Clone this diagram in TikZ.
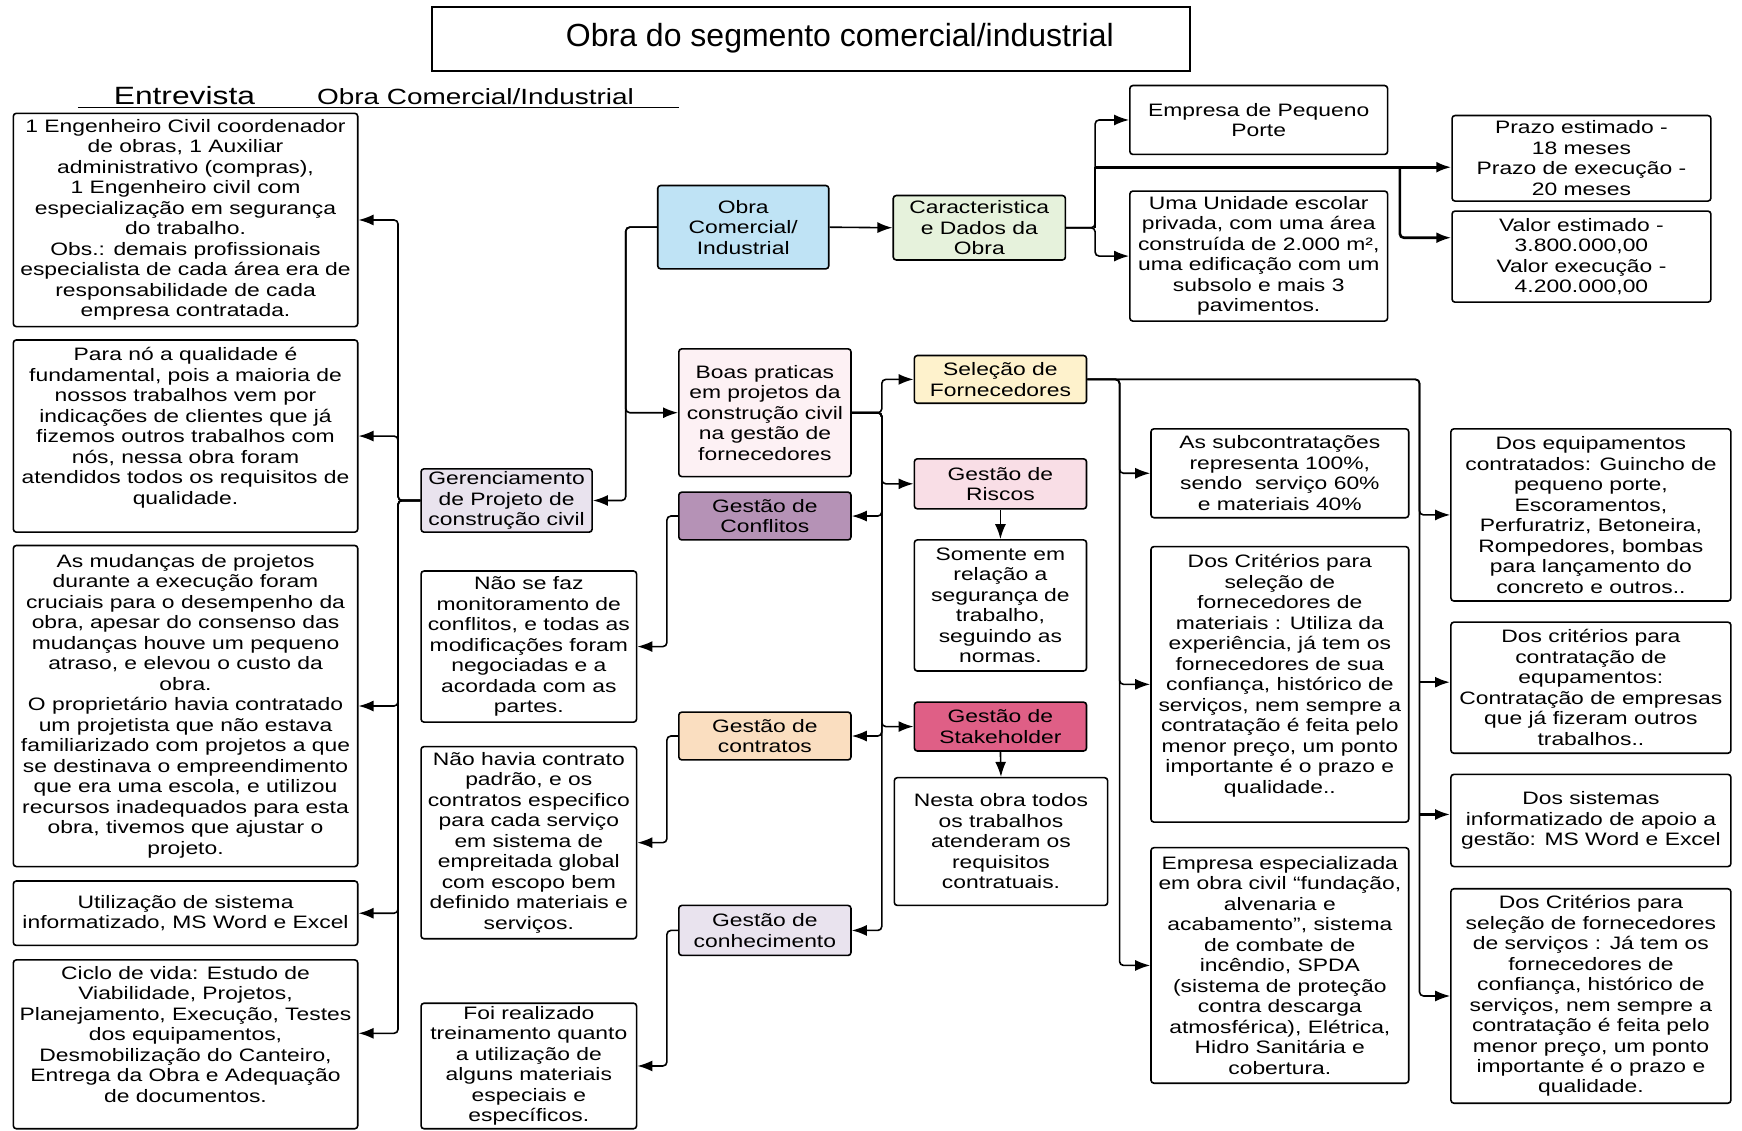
\documentclass[tikz,border=0pt]{standalone}
\usepackage{fontspec}
\setmainfont{Liberation Sans}[FakeStretch=1.27]
\newfontfamily\titlefont{Liberation Sans}
\usetikzlibrary{arrows.meta}

\definecolor{cObra}{HTML}{BFE3F5}
\definecolor{cCar}{HTML}{E6F2DC}
\definecolor{cBoas}{HTML}{FDF1F4}
\definecolor{cConf}{HTML}{B592B6}
\definecolor{cContr}{HTML}{FADEC0}
\definecolor{cLav}{HTML}{E9E3EE}
\definecolor{cSel}{HTML}{FEF2CC}
\definecolor{cRisc}{HTML}{F9DEE6}
\definecolor{cStake}{HTML}{DF5F86}

\tikzset{
  box/.style={draw=black, line width=1.6pt, rounded corners=3pt, align=center,
    inner sep=0pt, font=\fontsize{18}{20.5}\selectfont},
  arr/.style={line width=1.6pt, rounded corners=4pt, -{Latex[length=15pt,width=11pt]}},
  heavy/.style={line width=2.6pt},
}

% \bx[style]{name}{x1}{y1}{x2}{y2}{text}: box spanning the given corners
\newcommand{\bx}[7][]{%
  \pgfmathsetmacro\bw{(#5-#3)*1.111}%
  \pgfmathsetmacro\bh{(#6-#4)*1.111}%
  \node[box,#1,minimum width=\bw pt,minimum height=\bh pt] (#2)
    at ({(#3+#5)/2},{(#4+#6)/2}) {#7};}

\begin{document}
\begin{tikzpicture}[x=1.111pt,y=-1.111pt]
\useasboundingbox[fill=white] (0,0) rectangle (1568,1018);

% title
\node[draw=black, line width=1.6pt, minimum width=758pt, minimum height=64pt, inner sep=0pt]
  (titlebox) at (730,35) {};
\node[font=\titlefont\fontsize{32}{36}\selectfont] (title) at (756,34)
  {Obra do segmento comercial/industrial};

% header
\node[anchor=base, font=\fontsize{25}{28}\selectfont] (hdr1) at (166,94) {Entrevista};
\node[anchor=base, font=\fontsize{22}{24}\selectfont] (hdr2) at (428,94) {Obra Comercial/Industrial};
\draw[line width=1.3pt] (70,97) -- (611,97);

% left column
\bx{l1}{12}{102}{322}{294}{1 Engenheiro Civil coordenador\\de obras, 1 Auxiliar\\administrativo (compras),\\1 Engenheiro civil com\\especialização em segurança\\do trabalho.\\Obs.: demais profissionais\\especialista de cada área era de\\responsabilidade de cada\\empresa contratada.}
\bx{l2}{12}{306}{322}{479}{Para nó a qualidade é\\fundamental, pois a maioria de\\nossos trabalhos vem por\\indicações de clientes que já\\fizemos outros trabalhos com\\nós, nessa obra foram\\atendidos todos os requisitos de\\qualidade.\\~}
\bx{l3}{12}{491}{322}{780}{As mudanças de projetos\\durante a execução foram\\cruciais para o desempenho da\\obra, apesar do consenso das\\mudanças houve um pequeno\\atraso, e elevou o custo da\\obra.\\O proprietário havia contratado\\um projetista que não estava\\familiarizado com projetos a que\\se destinava o empreendimento\\que era uma escola, e utilizou\\recursos inadequados para esta\\obra, tivemos que ajustar o\\projeto.}
\bx{l4}{12}{793}{322}{851}{Utilização de sistema\\informatizado, MS Word e Excel}
\bx{l5}{12}{864}{322}{1016}{Ciclo de vida: Estudo de\\Viabilidade, Projetos,\\Planejamento, Execução, Testes\\dos equipamentos,\\Desmobilização do Canteiro,\\Entrega da Obra e Adequação\\de documentos.\\~}

% second column
\bx[fill=cLav]{ger}{379}{422}{533}{479}{Gerenciamento\\de Projeto de\\construção civil}
\bx{naose}{379}{514}{573}{650}{Não se faz\\monitoramento de\\conflitos, e todas as\\modificações foram\\negociadas e a\\acordada com as\\partes.}
\bx{naohavia}{379}{672}{573}{845}{Não havia contrato\\padrão, e os\\contratos especifico\\para cada serviço\\em sistema de\\empreitada global\\com escopo bem\\definido materiais e\\serviços.}
\bx{foi}{379}{903}{573}{1016}{Foi realizado\\treinamento quanto\\a utilização de\\alguns materiais\\especiais e\\específicos.}

% third column
\bx[fill=cObra]{obra}{592}{167}{746}{242}{Obra\\Comercial/\\Industrial}
\bx[fill=cBoas]{boas}{611}{314}{766}{429}{Boas praticas\\em projetos da\\construção civil\\na gestão de\\fornecedores}
\bx[fill=cConf]{conf}{611}{443}{766}{486}{Gestão de\\Conflitos}
\bx[fill=cContr]{contr}{611}{641}{766}{684}{Gestão de\\contratos}
\bx[fill=cLav]{conh}{611}{815}{766}{860}{Gestão de\\conhecimento}

% fourth column
\bx[fill=cCar]{car}{804}{176}{959}{234}{Caracteristica\\e Dados da\\Obra}
\bx[fill=cSel]{sel}{823}{320}{978}{363}{Seleção de\\Fornecedores}
\bx[fill=cRisc]{risc}{823}{413}{978}{458}{Gestão de\\Riscos}
\bx{somente}{823}{486}{978}{604}{Somente em\\relação a\\segurança de\\trabalho,\\seguindo as\\normas.}
\bx[fill=cStake]{stake}{823}{632}{978}{676}{Gestão de\\Stakeholder}
\bx{nesta}{805}{700}{997}{815}{Nesta obra todos\\os trabalhos\\atenderam os\\requisitos\\contratuais.}

% fifth column
\bx{emp}{1017}{77}{1249}{139}{Empresa de Pequeno\\Porte}
\bx{uma}{1017}{172}{1249}{289}{Uma Unidade escolar\\privada, com uma área\\construída de 2.000 m²,\\uma edificação com um\\subsolo e mais 3\\pavimentos.}
\bx{subs}{1036}{386}{1268}{466}{As subcontratações\\representa 100\%,\\sendo\ \ serviço 60\%\\e materiais 40\%}
\bx{critmat}{1036}{492}{1268}{740}{Dos Critérios para\\seleção de\\fornecedores de\\materiais : Utiliza da\\experiência, já tem os\\fornecedores de sua\\confiança, histórico de\\serviços, nem sempre a\\contratação é feita pelo\\menor preço, um ponto\\importante é o prazo e\\qualidade..\\~}
\bx{empesp}{1036}{763}{1268}{975}{Empresa especializada\\em obra civil “fundação,\\alvenaria e\\acabamento”, sistema\\de combate de\\incêndio, SPDA\\(sistema de proteção\\contra descarga\\atmosférica), Elétrica,\\Hidro Sanitária e\\cobertura.}

% right column
\bx{prazo}{1307}{104}{1540}{181}{Prazo estimado -\\18 meses\\Prazo de execução -\\20 meses}
\bx{valor}{1307}{190}{1540}{272}{Valor estimado -\\3.800.000,00\\Valor execução -\\4.200.000,00}
\bx{equip}{1306}{386}{1558}{541}{Dos equipamentos\\contratados: Guincho de\\pequeno porte,\\Escoramentos,\\Perfuratriz, Betoneira,\\Rompedores, bombas\\para lançamento do\\concreto e outros..}
\bx{critequip}{1306}{560}{1558}{678}{Dos critérios para\\contratação de\\equpamentos:\\Contratação de empresas\\que já fizeram outros\\trabalhos..}
\bx{sist}{1306}{697}{1558}{780}{Dos sistemas\\informatizado de apoio a\\gestão: MS Word e Excel}
\bx{critserv}{1306}{800}{1558}{993}{Dos Critérios para\\seleção de fornecedores\\de serviços : Já tem os\\fornecedores de\\confiança, histórico de\\serviços, nem sempre a\\contratação é feita pelo\\menor preço, um ponto\\importante é o prazo e\\qualidade.}

% connectors: project management trunk
\foreach \t in {l1,l2,l3,l4}
  \draw[arr] (ger.west) -- ++(-20,0) |- (\t.east);
\draw[arr] (ger.west) -- ++(-20,0) |- ([yshift=11pt]l5.east);

% connectors: from the work node
\draw[arr] (obra.west) -- ++(-28,0) |- (ger.east);
\draw[arr] (obra.west) -- ++(-28,0) |- (boas.west);
\draw[arr] (obra.east) -- (car.west);

% connectors: characteristics
\path (car.east) -- ++(26,0) coordinate (cbr);
\coordinate (pz) at ([yshift=-8.9pt]prazo.west);
\coordinate (vl) at ([yshift=18.9pt]valor.west);
\coordinate (split) at (1260,150);
\draw[arr] (car.east) -- (cbr) |- (emp.west);
\draw[arr] (car.east) -- (cbr) |- (uma.west);
\draw[line width=1.6pt] (cbr) -- (cbr |- pz);
\draw[arr,heavy] (cbr |- pz) -- (pz);
\draw[arr,heavy] (split) |- (vl);

% connectors: good practices branch
\foreach \t in {sel,risc,stake}
  \draw[arr] (boas.east) -- ++(27,0) |- (\t.west);
\foreach \t in {conf,contr,conh}
  \draw[arr] (boas.east) -- ++(27,0) |- (\t.east);
\draw[arr] (conf.west) -- ++(-10,0) |- (naose.east);
\draw[arr] (contr.west) -- ++(-10,0) |- (naohavia.east);
\draw[arr] (conh.west) -- ++(-10,0) |- (foi.east);
\draw[arr] (risc.south) -- (somente.north);
\draw[arr] (stake.south) -- (nesta.north);

% connectors: supplier selection
\foreach \t in {subs,critmat,empesp}
  \draw[arr] (sel.east) -- ++(29,0) |- (\t.west);
\path (sel.east) -- ++(299,0) coordinate (sbr);
\coordinate (ce) at ([yshift=5.5pt]critequip.west);
\coordinate (si) at ([yshift=6pt]sist.west);
\draw[arr] (sel.east) -- (sbr) |- (equip.west);
\draw[arr] (sel.east) -- (sbr) |- (critserv.west);
\draw[arr,heavy] (ce -| sbr) -- (ce);
\draw[arr,heavy] (si -| sbr) -- (si);
\end{tikzpicture}
\end{document}
